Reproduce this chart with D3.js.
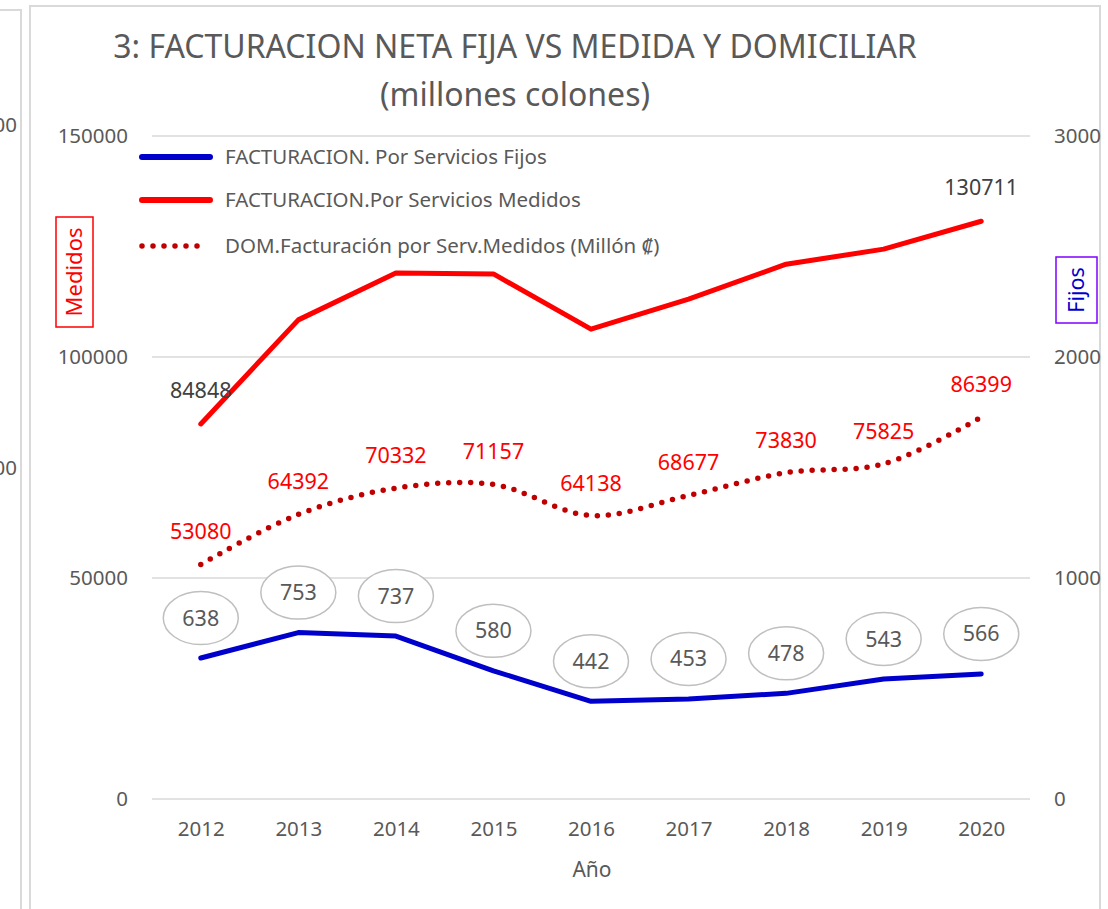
<!DOCTYPE html>
<html>
<head>
<meta charset="utf-8">
<script src="https://cdn.jsdelivr.net/npm/d3@7"></script>
<style>
  body { margin: 0; background: #fff; }
  svg { display: block; font-family: 'Noto Sans', sans-serif; }
</style>
</head>
<body>
<div id="chart"></div>
<script>
// chart data
const years = ['2012', '2013', '2014', '2015', '2016', '2017', '2018', '2019', '2020']
const fijos = [638, 753, 737, 580, 442, 453, 478, 543, 566]
const medidos = [84848, 108400, 119000, 118800, 106300, 113100, 121000, 124400, 130711]
const domMedidos = [53080, 64392, 70332, 71157, 64138, 68677, 73830, 75825, 86399]
const leftTicks = [0, 50000, 100000, 150000]
const rightTicks = [0, 1000, 2000, 3000]
const seriesNames = ['FACTURACION. Por Servicios Fijos', 'FACTURACION.Por Servicios Medidos', 'DOM.Facturación por Serv.Medidos (Millón ₡)']

const W = 1108, H = 909
const gray = '#595959'
const gridColor = '#d9d9d9'
const blue = '#0000cc'
const red = '#ff0000'
const darkRed = '#c00000'

const svg = d3.select('#chart').append('svg').attr('width', W).attr('height', H)

// neighbouring chart edge + chart frame
svg.append('path').attr('d', 'M0,10H21V909').attr('fill', 'none').attr('stroke', gridColor).attr('stroke-width', 2)
svg.append('text').attr('x', 17).attr('y', 132).attr('text-anchor', 'end').attr('font-size', 20.5).attr('fill', gray).text('000')
svg.append('text').attr('x', 17).attr('y', 475).attr('text-anchor', 'end').attr('font-size', 20.5).attr('fill', gray).text('000')
svg.append('path').attr('d', 'M30,915V6H1100V915').attr('fill', 'none').attr('stroke', gridColor).attr('stroke-width', 2)

const x = d3.scalePoint().domain(years).range([152, 1030]).padding(0.5)
const yL = d3.scaleLinear().domain([0, 150000]).range([799, 136])
const yR = d3.scaleLinear().domain([0, 3000]).range([799, 136])

// title
const title = svg.append('text').attr('text-anchor', 'middle').attr('fill', gray).attr('font-size', 32)
title.append('tspan').attr('x', 515).attr('y', 58).text('3: FACTURACION NETA FIJA VS MEDIDA Y DOMICILIAR')
title.append('tspan').attr('x', 515).attr('y', 106).text('(millones colones)')

// grid
svg.append('g').selectAll('line').data(leftTicks).enter().append('line')
  .attr('x1', 152).attr('x2', 1030)
  .attr('y1', d => yL(d)).attr('y2', d => yL(d))
  .attr('stroke', gridColor).attr('stroke-width', 1.5)

// axes
const axL = svg.append('g').attr('transform', 'translate(152,0)')
  .call(d3.axisLeft(yL).tickValues(leftTicks).tickFormat(d3.format('d')).tickSize(0).tickPadding(24))
const axR = svg.append('g').attr('transform', 'translate(1030,0)')
  .call(d3.axisRight(yR).tickValues(rightTicks).tickFormat(d3.format('d')).tickSize(0).tickPadding(24))
const axB = svg.append('g').attr('transform', 'translate(0,799)')
  .call(d3.axisBottom(x).tickSize(0).tickPadding(22))
;[axL, axR, axB].forEach(a => {
  a.select('.domain').remove()
  a.selectAll('text').attr('fill', gray).attr('font-size', 20.5).attr('font-family', "'Noto Sans', sans-serif")
})

svg.append('text').attr('x', 592).attr('y', 877).attr('text-anchor', 'middle')
  .attr('fill', gray).attr('font-size', 21).text('Año')

// lines
const lineL = d3.line().x((d, i) => x(years[i])).y(d => yL(d))
const lineR = d3.line().x((d, i) => x(years[i])).y(d => yR(d))
const lineDom = d3.line().x((d, i) => x(years[i])).y(d => yL(d)).curve(d3.curveCatmullRom.alpha(0.5))

svg.append('path').datum(domMedidos).attr('d', lineDom)
  .attr('fill', 'none').attr('stroke', darkRed).attr('stroke-width', 5.5)
  .attr('stroke-dasharray', '0 11').attr('stroke-linecap', 'round')
svg.append('path').datum(medidos).attr('d', lineL)
  .attr('fill', 'none').attr('stroke', red).attr('stroke-width', 5).attr('stroke-linecap', 'round').attr('stroke-linejoin', 'round')
svg.append('path').datum(fijos).attr('d', lineR)
  .attr('fill', 'none').attr('stroke', blue).attr('stroke-width', 5).attr('stroke-linecap', 'round').attr('stroke-linejoin', 'round')

// labels: DOM medidos
svg.append('g').selectAll('text').data(domMedidos).enter().append('text')
  .attr('x', (d, i) => x(years[i]))
  .attr('y', d => yL(d) - 25)
  .attr('text-anchor', 'middle').attr('fill', red).attr('font-size', 21.5)
  .text(d => d)

// labels: medidos (first and last only)
const medIdx = [0, medidos.length - 1]
svg.append('g').selectAll('text').data(medIdx).enter().append('text')
  .attr('x', i => x(years[i]))
  .attr('y', i => yL(medidos[i]) - 26)
  .attr('text-anchor', 'middle').attr('fill', '#404040').attr('font-size', 21.5)
  .text(i => medidos[i])

// labels: fijos in ellipses
const fl = svg.append('g').selectAll('g').data(fijos).enter().append('g')
  .attr('transform', (d, i) => 'translate(' + x(years[i]) + ',' + (yR(d) - 40) + ')')
fl.append('ellipse').attr('rx', 37.5).attr('ry', 26.5)
  .attr('fill', 'white').attr('stroke', '#bfbfbf').attr('stroke-width', 1.5)
fl.append('text').attr('text-anchor', 'middle').attr('dy', '0.35em')
  .attr('fill', gray).attr('font-size', 21.5).text(d => d)

// legend
const legY = [157, 200, 246]
const leg = svg.append('g')
leg.append('line').attr('x1', 142).attr('x2', 210).attr('y1', legY[0]).attr('y2', legY[0])
  .attr('stroke', blue).attr('stroke-width', 6).attr('stroke-linecap', 'round')
leg.append('line').attr('x1', 142).attr('x2', 210).attr('y1', legY[1]).attr('y2', legY[1])
  .attr('stroke', red).attr('stroke-width', 6).attr('stroke-linecap', 'round')
leg.append('line').attr('x1', 142).attr('x2', 208).attr('y1', legY[2]).attr('y2', legY[2])
  .attr('stroke', darkRed).attr('stroke-width', 5.5).attr('stroke-linecap', 'round').attr('stroke-dasharray', '0 11')
leg.selectAll('text').data(seriesNames).enter().append('text')
  .attr('x', 225).attr('y', (d, i) => legY[i]).attr('dy', '0.35em')
  .attr('fill', gray).attr('font-size', 20.5).text(d => d)

// axis title boxes
svg.append('rect').attr('x', 56).attr('y', 217).attr('width', 37).attr('height', 110)
  .attr('fill', 'white').attr('stroke', red).attr('stroke-width', 1.5)
svg.append('text').attr('transform', 'translate(74.5,272) rotate(-90)')
  .attr('text-anchor', 'middle').attr('dy', '0.35em').attr('fill', red).attr('font-size', 22).text('Medidos')
svg.append('rect').attr('x', 1056).attr('y', 257).attr('width', 41).attr('height', 66)
  .attr('fill', 'white').attr('stroke', '#7f00ff').attr('stroke-width', 1.5)
svg.append('text').attr('transform', 'translate(1076.5,290) rotate(-90)')
  .attr('text-anchor', 'middle').attr('dy', '0.35em').attr('fill', blue).attr('font-size', 21.5).text('Fijos')
</script>
</body>
</html>
